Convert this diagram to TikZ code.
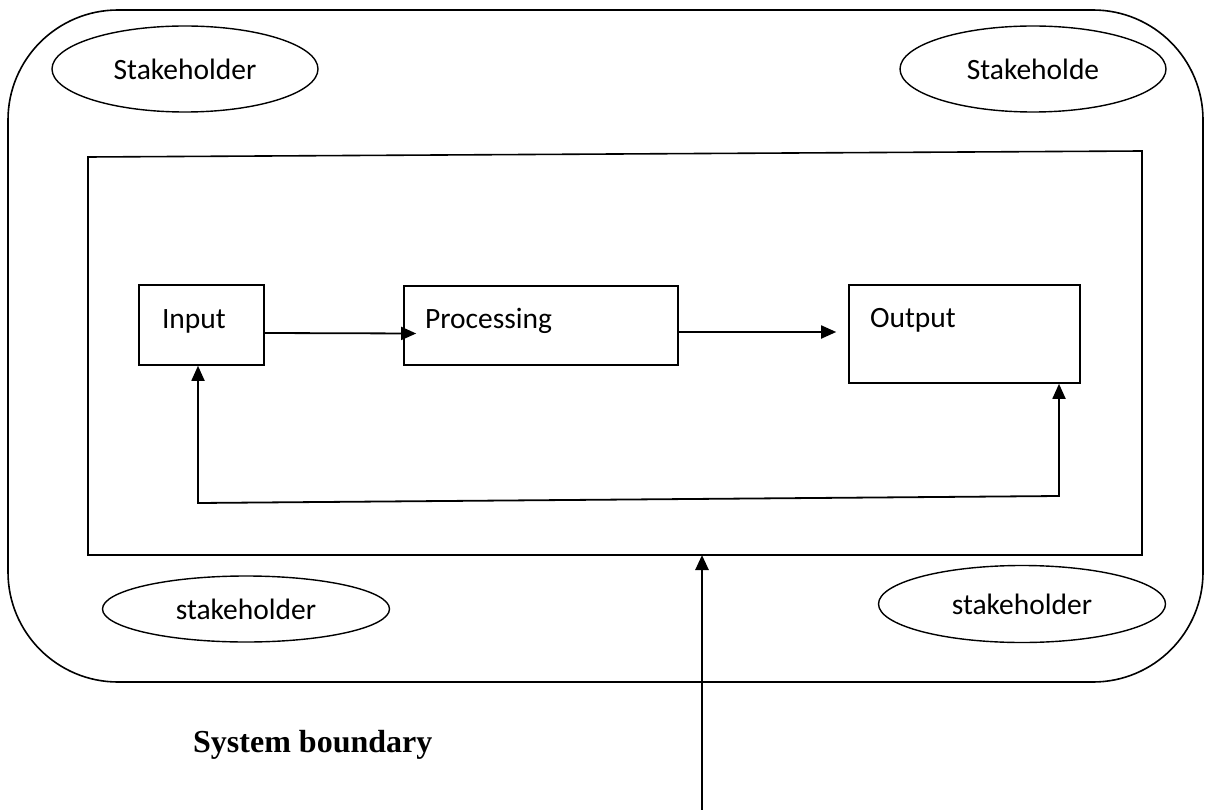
\documentclass[tikz,border=0pt]{standalone}
\usepackage{fontspec}
\usepackage{tikz}
\usetikzlibrary{positioning, shapes.geometric, arrows.meta}
\newfontfamily\calibri{Carlito}
\newfontfamily\timesfont{Liberation Serif}

\tikzset{
    box/.style={draw, rectangle, line width=1.6pt, inner ysep=0pt, align=left, font=\calibri\fontsize{29.5}{35}\selectfont},
    stake/.style={draw, ellipse, line width=1.4pt, inner sep=0pt, font=\calibri\fontsize{29.5}{35}\selectfont},
    flow/.style={line width=1.8pt, >={Triangle[length=15pt,width=13pt]}}
}

\begin{document}
\begin{tikzpicture}[x=1pt,y=-1pt]
                \useasboundingbox (0,0) rectangle (1206,810);

                %Boundaries
                \draw[line width=1.6pt, rounded corners=110pt] (8,10) rectangle (1203,682);
                \draw[line width=1.6pt] (88,157) -- (1142,151) -- (1142,555) -- (88,555) -- cycle;

                %Nodes
                \node[stake, minimum width=266pt, minimum height=86pt] at (185,69)   (sh1) {Stakeholder};
                \node[stake, minimum width=266pt, minimum height=86pt] at (1033,69)  (sh2) {Stakeholde};
                \node[stake, minimum width=287pt, minimum height=66pt] at (246,609)  (sh3) {stakeholder};
                \node[stake, minimum width=287pt, minimum height=77pt] at (1022,604) (sh4) {stakeholder};

                \node[box, inner xsep=23pt, text width=79pt, minimum height=80pt, text height=26pt, text depth=20pt] at (201.5,325) (in) {Input};
                \node[box, inner xsep=21pt, text width=232pt, minimum height=79pt, text height=25pt, text depth=20pt] at (541,325.5) (proc) {Processing};
                \node[box, inner xsep=21pt, text width=189pt, minimum height=98pt, text height=10pt, text depth=24pt] at (964.5,334) (out) {Output};

                \node[anchor=base west, inner sep=0pt, font=\timesfont\bfseries\fontsize{32}{38}\selectfont] at (193,752) (sysb) {System boundary};

                \coordinate (fbl) at (198,503);
                \coordinate (fbr) at (1059,496);
                \coordinate (bnd) at (702,555);
                \coordinate (src) at (702,810);

                %Lines
                \draw[flow, ->] ([yshift=-8pt]in.east) -- ([xshift=13pt,yshift=-8pt]proc.west);
                \draw[flow, ->] ([yshift=-6.5pt]proc.east) -- ([xshift=-12pt,yshift=2pt]out.west);
                \draw[flow, <->] (in.south -| fbl) -- (fbl) -- (fbr) -- (out.south -| fbr);
                \draw[flow, ->, line width=2.6pt] (src) -- (bnd);
            \end{tikzpicture}
\end{document}
